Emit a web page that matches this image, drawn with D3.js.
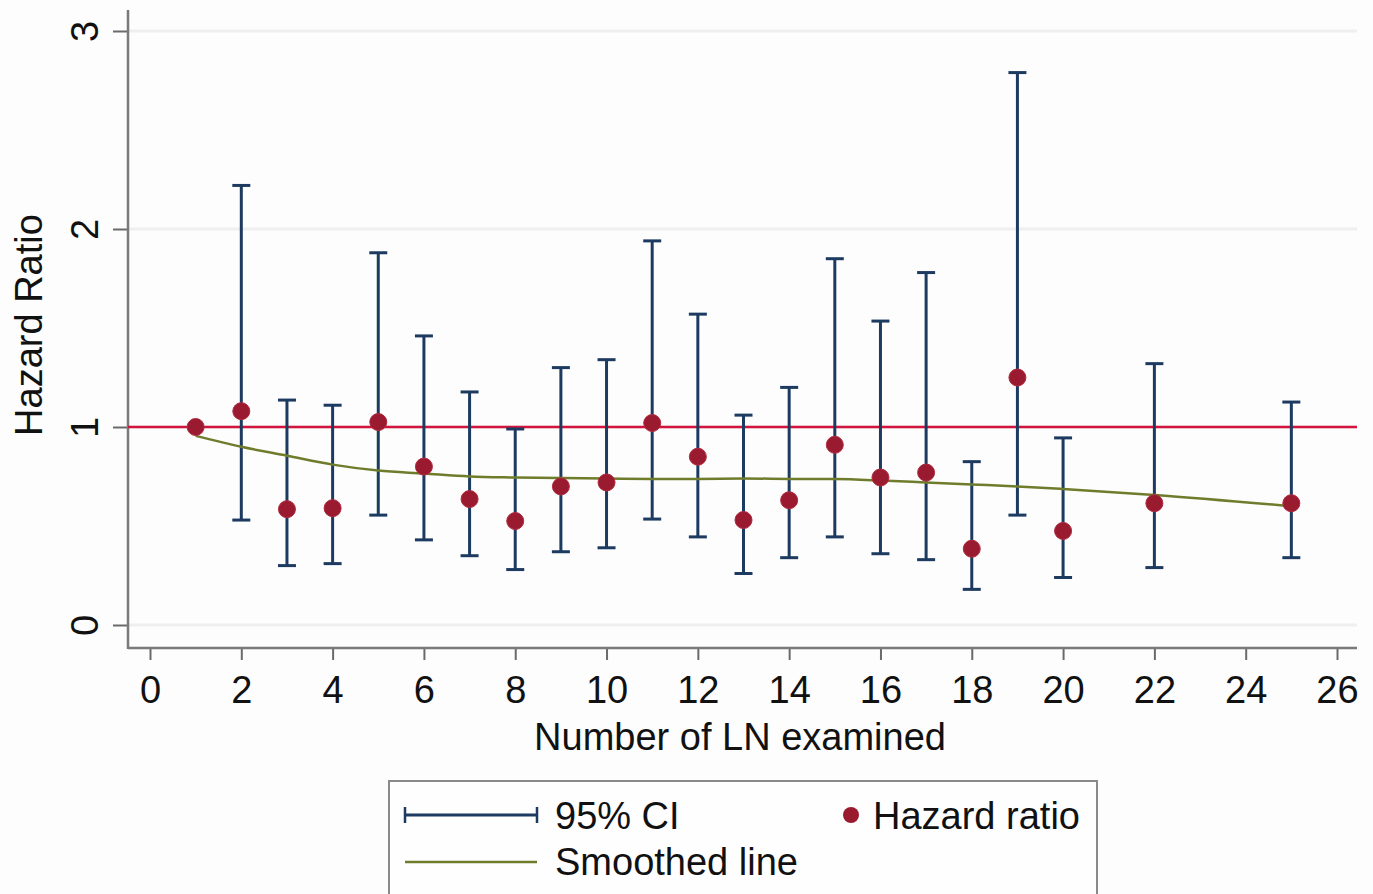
<!DOCTYPE html>
<html>
<head>
<meta charset="utf-8">
<script src="https://cdn.jsdelivr.net/npm/d3@7"></script>
<style>
  html, body { margin: 0; padding: 0; background: #fdfdfd; }
  svg { display: block; font-family: "Liberation Sans", Arial, sans-serif; }
</style>
</head>
<body>
<svg id="chart" width="1373" height="894"></svg>
<script>
// Number of lymph nodes examined
const lnCount = [1, 2, 3, 4, 5, 6, 7, 8, 9, 10, 11, 12, 13, 14, 15, 16, 17, 18, 19, 20, 22, 25];
// Hazard ratio point estimates
const hazardRatio = [1.00, 1.08, 0.585, 0.59, 1.025, 0.80, 0.636, 0.525, 0.70, 0.72, 1.02, 0.85, 0.53, 0.63, 0.91, 0.745, 0.77, 0.385, 1.25, 0.475, 0.615, 0.615];
// 95% confidence limits (none for the reference group at 1 LN)
const ciLower = [null, 0.53, 0.30, 0.31, 0.555, 0.43, 0.35, 0.28, 0.37, 0.39, 0.535, 0.445, 0.26, 0.34, 0.445, 0.36, 0.33, 0.18, 0.555, 0.24, 0.29, 0.34];
const ciUpper = [null, 2.22, 1.136, 1.11, 1.88, 1.46, 1.177, 0.99, 1.30, 1.34, 1.94, 1.57, 1.06, 1.20, 1.85, 1.535, 1.78, 0.825, 2.79, 0.945, 1.32, 1.126];
// Smoothed fit through the estimates
const smoothX = [1, 2, 3, 4, 5, 6, 7, 8, 9, 10, 11, 12, 13, 14, 15, 16, 17, 18, 19, 20, 22, 25];
const smoothY = [0.955, 0.90, 0.855, 0.81, 0.78, 0.765, 0.75, 0.745, 0.742, 0.74, 0.738, 0.738, 0.74, 0.738, 0.737, 0.73, 0.72, 0.71, 0.70, 0.687, 0.657, 0.60];
// Axis ticks
const xTicks = [0, 2, 4, 6, 8, 10, 12, 14, 16, 18, 20, 22, 24, 26];
const yTicks = [0, 1, 2, 3];

const svg = d3.select("#chart");
const frame = { left: 128, right: 1357, top: 10, bottom: 648 };

const x = d3.scaleLinear().domain([0, 26]).range([150, 1337]);
const y = d3.scaleLinear().domain([0, 3]).range([625, 31]);

const navy = "#1d3a60";
const dotRed = "#9a1a2f";
const olive = "#6f7c2c";
const refRed = "#d3143c";
const fontSize = 38;

// Horizontal grid lines
svg.append("g").selectAll("line").data(yTicks).join("line")
  .attr("x1", frame.left).attr("x2", frame.right)
  .attr("y1", d => y(d)).attr("y2", d => y(d))
  .attr("stroke", "#efefef").attr("stroke-width", 3);

// Axes
const xAxis = svg.append("g")
  .attr("transform", `translate(0,${frame.bottom})`)
  .call(d3.axisBottom(x).tickValues(xTicks).tickSize(12).tickFormat(d3.format("d")));
xAxis.select(".domain").remove();
xAxis.selectAll(".tick line").attr("stroke", "#6a6a6a").attr("stroke-width", 2);
xAxis.selectAll(".tick text")
  .attr("y", 55).attr("dy", 0)
  .attr("font-size", fontSize).attr("fill", "#111")
  .attr("font-family", "Liberation Sans, Arial, sans-serif");

const yAxis = svg.append("g")
  .attr("transform", `translate(${frame.left},0)`)
  .call(d3.axisLeft(y).tickValues(yTicks).tickSize(15).tickFormat(d3.format("d")));
yAxis.select(".domain").remove();
yAxis.selectAll(".tick line").attr("stroke", "#6a6a6a").attr("stroke-width", 2);
yAxis.selectAll(".tick text")
  .attr("x", null).attr("dy", 0)
  .attr("transform", "translate(-30,0) rotate(-90)")
  .attr("text-anchor", "middle")
  .attr("font-size", fontSize).attr("fill", "#111")
  .attr("font-family", "Liberation Sans, Arial, sans-serif");

svg.append("line")
  .attr("x1", frame.left).attr("x2", frame.left)
  .attr("y1", frame.top).attr("y2", frame.bottom + 1)
  .attr("stroke", "#7a7a7a").attr("stroke-width", 2.5);
svg.append("line")
  .attr("x1", frame.left).attr("x2", frame.right)
  .attr("y1", frame.bottom).attr("y2", frame.bottom)
  .attr("stroke", "#7a7a7a").attr("stroke-width", 2.5);

// Axis titles
svg.append("text")
  .attr("transform", `translate(42,325) rotate(-90)`)
  .attr("text-anchor", "middle")
  .attr("font-size", fontSize).attr("fill", "#111")
  .text("Hazard Ratio");
svg.append("text")
  .attr("x", 740).attr("y", 750)
  .attr("text-anchor", "middle")
  .attr("font-size", fontSize).attr("fill", "#111")
  .text("Number of LN examined");

// Reference line at HR = 1
svg.append("line")
  .attr("x1", frame.left).attr("x2", frame.right)
  .attr("y1", y(1)).attr("y2", y(1))
  .attr("stroke", refRed).attr("stroke-width", 2.5);

// Confidence intervals
const ciData = lnCount.map((n, i) => ({ n, lo: ciLower[i], hi: ciUpper[i] })).filter(d => d.lo !== null);
const capHalf = 9;
const ci = svg.append("g").attr("stroke", navy).attr("stroke-width", 3);
ci.selectAll("line.stem").data(ciData).join("line").attr("class", "stem")
  .attr("x1", d => x(d.n)).attr("x2", d => x(d.n))
  .attr("y1", d => y(d.hi)).attr("y2", d => y(d.lo));
ci.selectAll("line.capHi").data(ciData).join("line").attr("class", "capHi")
  .attr("x1", d => x(d.n) - capHalf).attr("x2", d => x(d.n) + capHalf)
  .attr("y1", d => y(d.hi)).attr("y2", d => y(d.hi));
ci.selectAll("line.capLo").data(ciData).join("line").attr("class", "capLo")
  .attr("x1", d => x(d.n) - capHalf).attr("x2", d => x(d.n) + capHalf)
  .attr("y1", d => y(d.lo)).attr("y2", d => y(d.lo));

// Smoothed line
const smooth = smoothX.map((n, i) => [n, smoothY[i]]);
svg.append("path")
  .datum(smooth)
  .attr("fill", "none").attr("stroke", olive).attr("stroke-width", 2.5)
  .attr("d", d3.line().x(d => x(d[0])).y(d => y(d[1])).curve(d3.curveMonotoneX));

// Hazard ratio points
svg.append("g").selectAll("circle")
  .data(lnCount.map((n, i) => ({ n, hr: hazardRatio[i] })))
  .join("circle")
  .attr("cx", d => x(d.n)).attr("cy", d => y(d.hr))
  .attr("r", 8.5).attr("fill", dotRed)
  .attr("stroke", "#b02a3f").attr("stroke-width", 1);

// Legend
const lg = svg.append("g");
lg.append("rect")
  .attr("x", 389).attr("y", 781).attr("width", 708).attr("height", 130)
  .attr("fill", "#fefefe").attr("stroke", "#8a8a8a").attr("stroke-width", 2);
lg.append("line").attr("x1", 405).attr("x2", 537).attr("y1", 815).attr("y2", 815)
  .attr("stroke", navy).attr("stroke-width", 3);
[405, 537].forEach(cx => lg.append("line")
  .attr("x1", cx).attr("x2", cx).attr("y1", 807).attr("y2", 823)
  .attr("stroke", navy).attr("stroke-width", 2.5));
lg.append("text").attr("x", 555).attr("y", 829).attr("font-size", fontSize).attr("fill", "#111").text("95% CI");
lg.append("circle").attr("cx", 851).attr("cy", 815).attr("r", 8).attr("fill", dotRed);
lg.append("text").attr("x", 873).attr("y", 829).attr("font-size", fontSize).attr("fill", "#111").text("Hazard ratio");
lg.append("line").attr("x1", 405).attr("x2", 537).attr("y1", 862).attr("y2", 862)
  .attr("stroke", olive).attr("stroke-width", 2.5);
lg.append("text").attr("x", 555).attr("y", 875).attr("font-size", fontSize).attr("fill", "#111").text("Smoothed line");
</script>
</body>
</html>
